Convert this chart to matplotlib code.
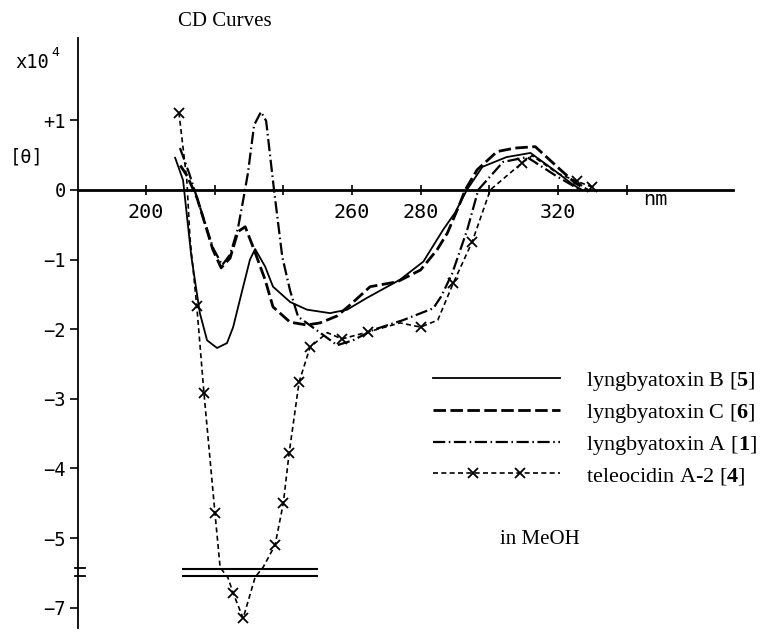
import numpy as np
import matplotlib
matplotlib.use("Agg")
import matplotlib.pyplot as plt
from matplotlib.legend_handler import HandlerLine2D, HandlerTuple

plt.rcParams['mathtext.fontset'] = 'custom'
plt.rcParams['mathtext.rm'] = 'Liberation Serif'
plt.rcParams['mathtext.bf'] = 'Liberation Serif:bold'

# ---------------- data (wavelength nm, [theta] x 10^4) ----------------
lyngB_nm = [208.5, 210.8, 213.2, 215.7, 217.8, 220.7, 223.6, 225.4, 227.4, 230.3, 231.8,
            234.7, 237.0, 242.0, 246.9, 253.6, 258.6, 264.4, 274.0, 280.8, 286.6, 290.0,
            293.5, 298.0, 305.0, 312.0, 318.7, 324.5, 327.0]
lyngB_val = [0.46, 0.14, -0.95, -1.77, -2.16, -2.27, -2.20, -1.97, -1.57, -1.00, -0.85,
             -1.10, -1.39, -1.61, -1.72, -1.77, -1.72, -1.55, -1.29, -1.03, -0.57, -0.33,
             0.00, 0.33, 0.47, 0.53, 0.29, 0.07, 0.00]

lyngC_nm = [210.0, 212.0, 214.9, 219.5, 221.9, 224.5, 226.8, 228.9, 231.2, 234.7, 237.0,
            242.0, 246.9, 250.7, 255.7, 259.5, 265.3, 273.2, 280.0, 284.8, 287.8, 291.0,
            293.0, 296.5, 302.3, 307.5, 313.4, 320.7, 325.0, 328.6]
lyngC_val = [0.35, 0.20, -0.12, -0.86, -1.12, -0.98, -0.60, -0.53, -0.82, -1.29, -1.68,
             -1.90, -1.94, -1.91, -1.81, -1.65, -1.39, -1.32, -1.15, -0.86, -0.62, -0.25,
             0.00, 0.29, 0.55, 0.60, 0.62, 0.29, 0.10, 0.00]

lyngA_nm = [209.9, 212.5, 214.9, 219.5, 222.2, 224.5, 226.8, 228.3, 229.7, 231.5, 233.5,
            235.0, 237.3, 239.7, 242.0, 244.3, 250.7, 255.7, 260.3, 266.2, 274.9, 283.7,
            286.0, 289.2, 293.6, 296.8, 304.0, 311.0, 319.8, 326.5]
lyngA_val = [0.60, 0.25, -0.12, -0.83, -1.08, -0.93, -0.55, -0.15, 0.24, 0.93, 1.12,
             0.99, 0.00, -0.96, -1.45, -1.82, -2.05, -2.23, -2.16, -2.01, -1.87, -1.70,
             -1.53, -1.20, -0.57, 0.00, 0.40, 0.47, 0.19, 0.00]

tele_nm = [209.6, 211.9, 212.8, 214.8, 216.9, 220.1, 221.6, 223.9, 225.4, 228.3, 231.8,
           234.1, 237.6, 240.0, 241.7, 244.6, 247.8, 252.8, 257.1, 264.7, 274.0, 280.0,
           285.0, 289.5, 295.0, 300.3, 309.6, 312.5, 319.8, 325.7, 330.0]
tele_val = [1.11, 0.14, -0.68, -1.67, -2.92, -4.64, -5.42, -6.57, -6.79, -7.15, -6.56,
            -5.42, -5.10, -4.50, -3.78, -2.76, -2.26, -2.05, -2.14, -2.04, -1.91, -1.97,
            -1.87, -1.34, -0.75, 0.00, 0.39, 0.49, 0.24, 0.12, 0.04]
tele_marks = [0, 3, 4, 5, 8, 9, 12, 13, 14, 15, 16, 18, 19, 21, 23, 24, 26, 29, 30]

x_ticks = [200, 220, 240, 260, 280, 300, 320, 340]
x_tick_labels = ['200', '', '', '260', '280', '', '320', '']
y_ticks = [1, 0, -1, -2, -3, -4, -5, -7]
y_tick_labels = ['+1', '0', '\u22121', '\u22122', '\u22123', '\u22124', '\u22125', '\u22127']

labels = [r'lyngbyatoxin B [$\mathbf{5}$]', r'lyngbyatoxin C [$\mathbf{6}$]',
          r'lyngbyatoxin A [$\mathbf{1}$]', r'teleocidin A-2 [$\mathbf{4}$]']


# ---------------- broken y axis (-6 region removed) ----------------
def fwd(v):
    v = np.asarray(v, float)
    return np.where(v >= -5.45, v,
                    np.where(v <= -6.55, v + 1.0, -5.45 + (v + 5.45) / 11.0))


def inv(d):
    d = np.asarray(d, float)
    return np.where(d >= -5.45, d,
                    np.where(d <= -5.55, d - 1.0, -5.45 + (d + 5.45) * 11.0))


W, H = 765, 639
fig = plt.figure(figsize=(W / 100, H / 100), dpi=100)
fig.patch.set_facecolor('white')
ax = fig.add_axes([78 / W, 1 - 628 / H, (733 - 78) / W, (628 - 38) / H])
ax.set_yscale('function', functions=(fwd, inv))
ax.set_xlim(180.2, 371.0)
ax.set_ylim(-7.29, 2.18)

mono = 'DejaVu Sans Mono'
serif = 'Liberation Serif'

lB, = ax.plot(lyngB_nm, lyngB_val, color='black', lw=1.3, solid_joinstyle='round')
lC, = ax.plot(lyngC_nm, lyngC_val, color='black', lw=2.0, linestyle=(0, (4.5, 1.6)))
lA, = ax.plot(lyngA_nm, lyngA_val, color='black', lw=1.6, linestyle=(0, (5.5, 1.6, 0.7, 1.6)))
lT, = ax.plot(tele_nm, tele_val, color='black', lw=1.2, linestyle=(0, (3.0, 2.0)))
mT, = ax.plot([tele_nm[i] for i in tele_marks], [tele_val[i] for i in tele_marks],
              linestyle='none', marker='x', color='black', ms=7, mew=1.3)

# axis break marks
ax.plot([210.5, 250.1], [-5.44, -5.44], color='black', lw=1.5, solid_capstyle='butt')
ax.plot([210.5, 250.1], [-6.50, -6.50], color='black', lw=1.5, solid_capstyle='butt')
ax.plot([179.3, 182.2], [-5.43, -5.43], color='black', lw=1.3, clip_on=False)
ax.plot([179.3, 182.2], [-6.55, -6.55], color='black', lw=1.3, clip_on=False)

# spines
for s in ['top', 'right']:
    ax.spines[s].set_visible(False)
ax.spines['bottom'].set_position(('data', 0))
ax.spines['bottom'].set_linewidth(2.0)
ax.spines['left'].set_linewidth(1.3)

ax.set_xticks(x_ticks)
ax.set_xticklabels(x_tick_labels, fontfamily=mono, fontsize=14.5)
ax.tick_params(axis='x', direction='inout', length=7, width=1.2, pad=6)
ax.set_yticks(y_ticks)
ax.set_yticklabels(y_tick_labels, fontfamily=mono, fontsize=13.5)
ax.tick_params(axis='y', direction='out', length=6, width=1.2, pad=3)
ax.minorticks_off()

# texts
fig.text(225 / W, 1 - 22 / H, 'CD Curves', family=serif, fontsize=15, ha='center', va='center')
fig.text(15 / W, 1 - 62 / H, 'x10', family=mono, fontsize=13.5, ha='left', va='center')
fig.text(51 / W, 1 - 53 / H, '4', family=mono, fontsize=9.5, ha='left', va='center')
fig.text(10 / W, 1 - 157 / H, '[\u03b8]', family=mono, fontsize=13.5, ha='left', va='center')
ax.text(348.4, 0, 'nm', family=mono, fontsize=14.5, ha='center', va='top',
        transform=ax.transData)
fig.text(540 / W, 1 - 540 / H, 'in MeOH', family=serif, fontsize=15, ha='center', va='center')

leg = ax.legend([lB, lC, lA, (lT, mT)], labels,
                handler_map={tuple: HandlerTuple(ndivide=1),
                             mT: HandlerLine2D(numpoints=2, marker_pad=1.8)},
                loc='upper left', bbox_to_anchor=(433 / W, 1 - 370 / H),
                bbox_transform=fig.transFigure, frameon=False,
                prop={'family': serif, 'size': 16}, handlelength=5.7,
                handletextpad=1.2, labelspacing=0.4, borderpad=0, borderaxespad=0)

fig.savefig('out.png', dpi=100, facecolor='white')
